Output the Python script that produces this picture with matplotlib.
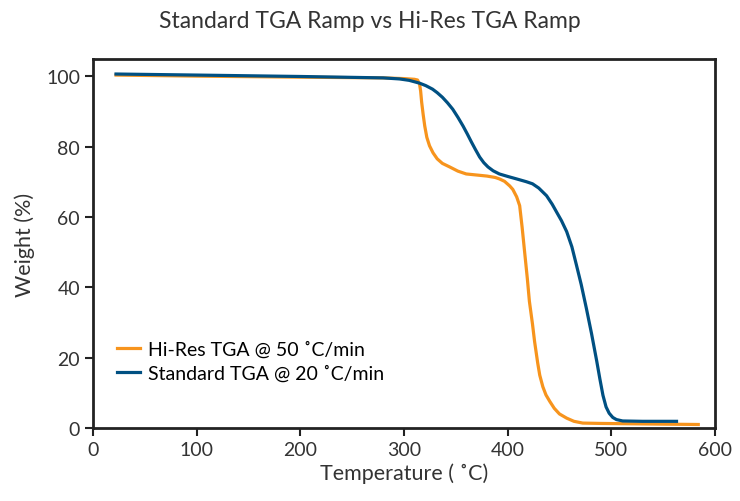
import matplotlib
matplotlib.use("Agg")
import matplotlib.pyplot as plt

plt.rcParams['font.family'] = ['Lato', 'DejaVu Sans']

# Hi-Res TGA @ 50 C/min (orange)
hires_temp = [22, 100, 200, 280, 300, 305, 310, 313, 315, 316, 317, 318.5, 320, 322, 324.6,
              328, 332, 337, 344, 352, 360, 370, 380, 388, 392, 397, 402, 405, 408.7, 411.6,
              414, 416.4, 419, 421, 424, 426, 429, 431, 434, 437, 440.6, 445, 450, 457, 464,
              472.5, 490, 520, 550, 584]
hires_wt = [100.3, 100.0, 99.7, 99.5, 99.3, 99.2, 99.1, 98.9, 97.7, 95.8, 92.6, 89.0, 85.8, 82.6,
            80.2, 78.2, 76.5, 75.2, 74.2, 73.0, 72.2, 71.9, 71.6, 71.2, 70.8, 70.1, 68.8, 67.8,
            65.7, 63.2, 57.0, 50.0, 42.5, 36.0, 29.5, 24.6, 18.5, 15.0, 11.7, 9.4, 7.6, 5.6,
            4.0, 2.8, 1.9, 1.4, 1.3, 1.2, 1.1, 1.0]

# Standard TGA @ 20 C/min (blue)
std_temp = [22, 100, 200, 280, 295.7, 305, 315, 321, 327.5, 332, 337, 342, 347, 352, 357, 361,
            365, 369, 373, 377, 381, 386, 392, 400, 408.5, 418, 424, 430, 437.6, 443, 447,
            452, 457, 462, 466.5, 471, 476, 481, 486, 489, 492, 495, 498, 501.5, 505, 511, 530,
            563]
std_wt = [100.6, 100.3, 99.9, 99.5, 99.2, 98.8, 98.0, 97.3, 96.3, 95.3, 94.0, 92.4, 90.6, 88.3,
          85.8, 83.6, 81.3, 79.1, 77.0, 75.4, 74.2, 73.1, 72.2, 71.5, 70.8, 70.0, 69.4, 68.2,
          66.0, 63.6, 61.5, 58.9, 55.8, 51.5, 46.2, 40.8, 34.0, 26.8, 19.0, 14.0, 9.3, 6.0,
          4.2, 3.0, 2.4, 2.0, 1.9, 1.9]

orange = '#F7941D'
blue = '#005082'
text_col = '#333333'

fig = plt.figure(figsize=(7.4, 5.02), dpi=100)
ax = fig.add_axes([0.126, 0.1454, 0.840, 0.7346])

ax.plot(hires_temp, hires_wt, color=orange, lw=2.3, solid_joinstyle='round',
        label='Hi-Res TGA @ 50 \u02daC/min')
ax.plot(std_temp, std_wt, color=blue, lw=2.3, solid_joinstyle='round',
        label='Standard TGA @ 20 \u02daC/min')

ax.set_xlim(0, 600)
ax.set_ylim(0, 104.8)
ax.set_xticks(range(0, 601, 100))
ax.set_yticks(range(0, 101, 20))
ax.tick_params(direction='out', length=6, width=1.5, labelsize=14, colors='#222222',
               labelcolor=text_col)
for sp in ax.spines.values():
    sp.set_linewidth(2)
    sp.set_color('#222222')

ax.set_xlabel('Temperature ( \u02daC)', fontsize=15.5, color=text_col, labelpad=3)
ax.set_ylabel('Weight (%)', fontsize=15.5, color=text_col, labelpad=8)
fig.suptitle('Standard TGA Ramp vs Hi-Res TGA Ramp', fontsize=16.5, color=text_col, y=0.978)

ax.legend(loc='lower left', bbox_to_anchor=(0.025, 0.105), frameon=False, fontsize=14,
          handlelength=1.2, handletextpad=0.4, labelspacing=0.35, borderaxespad=0)

fig.savefig('out.png', dpi=100)
